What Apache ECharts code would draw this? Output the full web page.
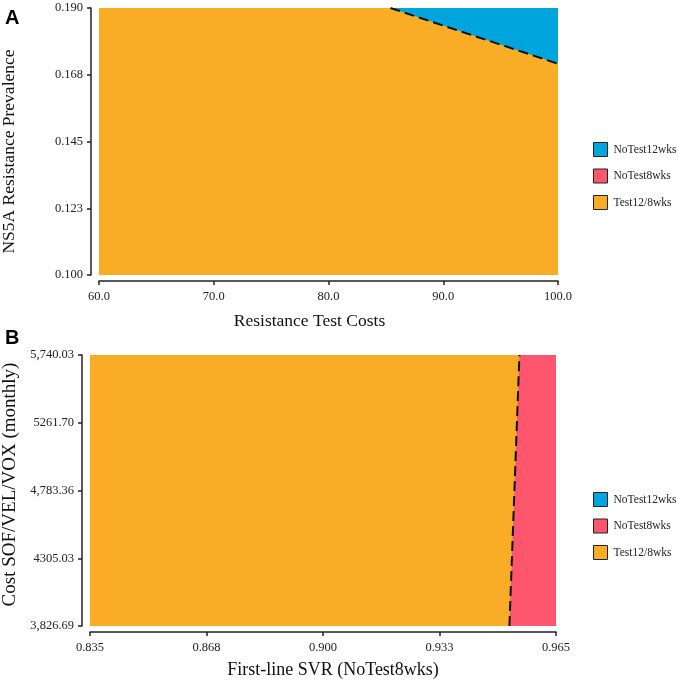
<!DOCTYPE html>
<html>
<head>
<meta charset="utf-8">
<script src="https://cdn.jsdelivr.net/npm/echarts@6/dist/echarts.min.js"></script>
<style>
  html, body { margin: 0; padding: 0; background: #fff; }
  #main { width: 678px; height: 684px; }
</style>
</head>
<body>
<div id="main"></div>
<script>
// 图例名称 / 颜色
var names = ['NoTest12wks', 'NoTest8wks', 'Test12/8wks'];
var colors = ['#00a5de', '#fe576d', '#f9ad27'];

// A: 坐标范围和刻度
var xTicksA = [60, 70, 80, 90, 100];
var xLabelsA = ['60.0', '70.0', '80.0', '90.0', '100.0'];
var yTicksA = [0.1, 0.1225, 0.145, 0.1675, 0.19];
var yLabelsA = ['0.100', '0.123', '0.145', '0.168', '0.190'];
// A: NoTest12wks 与 Test12/8wks 的分界线
var boundaryA = [[85.4, 0.19], [100, 0.1712]];

// B: 坐标范围和刻度
var xTicksB = [0.835, 0.8675, 0.9, 0.9325, 0.965];
var xLabelsB = ['0.835', '0.868', '0.900', '0.933', '0.965'];
var yTicksB = [3826.69, 4305.025, 4783.36, 5261.695, 5740.03];
var yLabelsB = ['3,826.69', '4305.03', '4,783.36', '5261.70', '5,740.03'];
// B: NoTest8wks 与 Test12/8wks 的分界线
var boundaryB = [[0.952, 3826.69], [0.9548, 5740.03]];

(function () {
    var myCharts = echarts.init(document.getElementById('main'));
    var serif = '"Liberation Serif", "DejaVu Serif", serif';

    function label(ticks, labels) {
        return function (v) {
            for (var i = 0; i < ticks.length; i++) {
                if (Math.abs(ticks[i] - v) < 1e-9 * Math.max(1, Math.abs(v))) return labels[i];
            }
            return '';
        };
    }

    function xAxis(idx, ticks, labels, name, gap, size, pad) {
        return {
            type: 'value', gridIndex: idx,
            min: ticks[0], max: ticks[ticks.length - 1],
            offset: 6,
            name: name, nameLocation: 'middle', nameGap: gap,
            nameTextStyle: { fontFamily: serif, fontSize: size, color: '#111', padding: pad },
            axisLine: { show: true, onZero: false, lineStyle: { color: '#222', width: 1.5 } },
            axisTick: { show: true, length: 4, customValues: ticks, lineStyle: { color: '#222', width: 1.5 } },
            axisLabel: { customValues: ticks, formatter: label(ticks, labels), margin: 9,
                fontFamily: serif, fontSize: 12.5, color: '#222' },
            splitLine: { show: false }
        };
    }

    function yAxis(idx, ticks, labels, name, gap, size, pad) {
        return {
            type: 'value', gridIndex: idx,
            min: ticks[0], max: ticks[ticks.length - 1],
            offset: 8,
            name: name, nameLocation: 'middle', nameGap: gap, nameRotate: 90,
            nameTextStyle: { fontFamily: serif, fontSize: size, color: '#111', padding: pad },
            axisLine: { show: true, onZero: false, lineStyle: { color: '#222', width: 1.5 } },
            axisTick: { show: true, length: 4, customValues: ticks, lineStyle: { color: '#222', width: 1.5 } },
            axisLabel: { customValues: ticks, formatter: label(ticks, labels), margin: 8,
                fontFamily: serif, fontSize: 12.5, color: '#222' },
            splitLine: { show: false }
        };
    }

    function area(name, idx, data, color, origin) {
        return {
            name: name, type: 'line', xAxisIndex: idx, yAxisIndex: idx,
            data: data, showSymbol: false, silent: true, z: 1,
            lineStyle: { width: 0, color: color },
            itemStyle: { color: color },
            areaStyle: { color: color, opacity: 1, origin: origin }
        };
    }

    function dashed(idx, data) {
        return {
            type: 'line', xAxisIndex: idx, yAxisIndex: idx,
            data: data, showSymbol: false, silent: true, z: 3,
            lineStyle: { color: '#111', width: 2, type: [10, 5] }
        };
    }

    function legend(top) {
        return {
            orient: 'vertical', left: 588, top: top,
            itemWidth: 14, itemHeight: 14, itemGap: 11.5,
            icon: 'rect', selectedMode: false,
            textStyle: { fontFamily: serif, fontSize: 11.5, color: '#222', padding: [0, 0, 0, 1] },
            data: names.map(function (n, i) {
                return { name: n, itemStyle: { color: colors[i], borderColor: '#222', borderWidth: 1 } };
            })
        };
    }

    var option = {
        animation: false,
        grid: [
            { left: 99, width: 459, top: 8, height: 267, outerBoundsMode: 'none' },
            { left: 90, width: 466, top: 355, height: 271, outerBoundsMode: 'none' }
        ],
        xAxis: [
            xAxis(0, xTicksA, xLabelsA, 'Resistance Test Costs', 31, 17.5, [0, 38, 0, 0]),
            xAxis(1, xTicksB, xLabelsB, 'First-line SVR (NoTest8wks)', 29, 18, [0, 0, 0, 20])
        ],
        yAxis: [
            yAxis(0, yTicksA, yLabelsA, 'NS5A Resistance Prevalence', 73, 17.5, [0, 20, 0, 0]),
            yAxis(1, yTicksB, yLabelsB, 'Cost SOF/VEL/VOX (monthly)', 62, 19, [0, 0, 0, 12])
        ],
        legend: [legend(137), legend(487)],
        series: [
            // A
            area(names[2], 0, [[xTicksA[0], yTicksA[4]], [xTicksA[4], yTicksA[4]]], colors[2], 'start'),
            area(names[0], 0, boundaryA, colors[0], 'end'),
            dashed(0, boundaryA),
            // B
            area(names[2], 1, [[xTicksB[0], yTicksB[4]], [xTicksB[4], yTicksB[4]]], colors[2], 'start'),
            area(names[1], 1, boundaryB.concat([[xTicksB[4], yTicksB[4]]]), colors[1], 'start'),
            dashed(1, boundaryB)
        ],
        graphic: [
            { type: 'text', left: 5, top: 8, style: { text: 'A', fontFamily: '"Liberation Sans", Arial, sans-serif',
                fontWeight: 'bold', fontSize: 20, fill: '#000' } },
            { type: 'text', left: 5, top: 328, style: { text: 'B', fontFamily: '"Liberation Sans", Arial, sans-serif',
                fontWeight: 'bold', fontSize: 20, fill: '#000' } }
        ]
    };

    myCharts.setOption(option);
})();
</script>
</body>
</html>
